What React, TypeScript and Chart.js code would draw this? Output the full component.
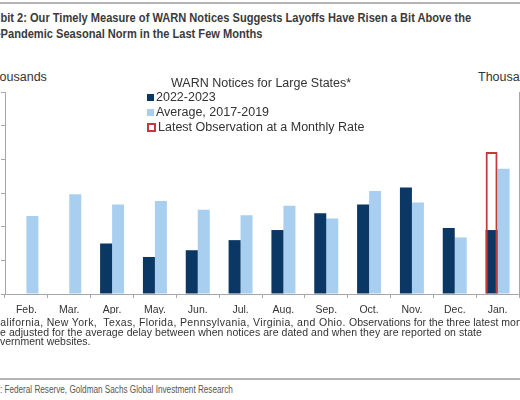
import React, { useEffect, useRef } from "react";
import { Chart, registerables } from "chart.js";

Chart.register(...registerables);

const categories = ["Feb.", "Mar.", "Apr.", "May.", "Jun.", "Jul.", "Aug.", "Sep.", "Oct.", "Nov.", "Dec.", "Jan."];
const recent = [null, null, 7.5, 5.5, 6.5, 8.0, 9.5, 12.0, 13.3, 15.8, 9.8, 9.5];
const average = [11.6, 14.8, 13.3, 13.8, 12.5, 11.7, 13.1, 11.2, 15.3, 13.6, 8.4, 18.6];
const latestMonthlyRate = [null, null, null, null, null, null, null, null, null, null, null, 21.1];
const yMin = 0;
const yMax = 30;
const yStep = 5;

const titleLine1 = "Exhibit 2: Our Timely Measure of WARN Notices Suggests Layoffs Have Risen a Bit Above the";
const titleLine2 = "Pre-Pandemic Seasonal Norm in the Last Few Months";
const footLine1Head = "California, New York,  Texas, Florida, Pennsylvania, Virginia, and Ohio. ";
const footLine1Tail = "Observations for the three latest months";
const footLine2 = "are adjusted for the average delay between when notices are dated and when they are reported on state";
const footLine3 = "government websites.";
const sourceLine = "Source: Federal Reserve, Goldman Sachs Global Investment Research";

const DARK = "#0a3764";
const LIGHT = "#a8cff0";
const RED = "#c23a3a";
const AXIS = "#a6a6a6";
const FAM = "'Liberation Sans', Arial, sans-serif";

let measureCtx: CanvasRenderingContext2D | null = null;
function textWidth(text: string, font: string): number {
  if (!measureCtx) measureCtx = document.createElement("canvas").getContext("2d");
  if (!measureCtx) return text.length * 6;
  measureCtx.font = font;
  return measureCtx.measureText(text).width;
}

export default function App() {
  const ref = useRef<HTMLCanvasElement | null>(null);

  useEffect(() => {
    if (!ref.current) return;
    const chart = new Chart(ref.current, {
      type: "bar",
      data: {
        labels: categories,
        datasets: [
          {
            label: "Latest Observation at a Monthly Rate",
            data: latestMonthlyRate,
            backgroundColor: "rgba(0,0,0,0)",
            borderColor: RED,
            borderWidth: 2,
            stack: "a",
            order: 0,
          },
          {
            label: "2022-2023",
            data: recent,
            backgroundColor: DARK,
            stack: "a",
            order: 1,
          },
          {
            label: "Average, 2017-2019",
            data: average,
            backgroundColor: LIGHT,
            stack: "b",
            order: 1,
          },
        ],
      },
      options: {
        animation: false,
        responsive: false,
        maintainAspectRatio: false,
        events: [],
        layout: { padding: { left: 0, right: 16, top: 12, bottom: 6 } },
        datasets: { bar: { categoryPercentage: 0.56, barPercentage: 1.0 } },
        plugins: { legend: { display: false }, tooltip: { enabled: false }, title: { display: false } },
        scales: {
          x: {
            stacked: true,
            grid: { display: true, drawOnChartArea: false, drawTicks: true, tickLength: 4, color: AXIS },
            border: { display: true, color: AXIS },
            ticks: { color: "#333", font: { family: FAM, size: 10.5 }, padding: 6, maxRotation: 0, autoSkip: false },
            afterFit: (s: any) => { s.height = 20; },
          },
          y: {
            stacked: false,
            position: "left",
            min: yMin,
            max: yMax,
            grid: { display: true, drawOnChartArea: false, drawTicks: true, tickLength: 4, color: AXIS },
            border: { display: true, color: AXIS },
            ticks: { display: false, stepSize: yStep },
            afterFit: (s: any) => { s.width = 5; },
          },
          y1: {
            stacked: false,
            position: "right",
            min: yMin,
            max: yMax,
            grid: { display: true, drawOnChartArea: false, drawTicks: true, tickLength: 4, color: AXIS },
            border: { display: true, color: AXIS },
            ticks: { display: false, stepSize: yStep },
            afterFit: (s: any) => { s.width = 5; },
          },
        },
      },
    });
    return () => chart.destroy();
  }, []);

  const abs = (left: number, top: number, extra: React.CSSProperties = {}): React.CSSProperties => ({
    position: "absolute",
    left,
    top,
    whiteSpace: "pre",
    ...extra,
  });

  // Title: condensed bold, fitted so the visible part of line 1 ends at x≈472
  const tFont = `bold 13px ${FAM}`;
  const tPre1 = textWidth("Exhi", tFont);
  const tScale = 472 / (textWidth(titleLine1, tFont) - tPre1 + 1);
  const tPre2 = textWidth("Pre-", tFont);
  const titleStyle = (left: number, top: number) =>
    abs(left, top, {
      fontFamily: FAM,
      fontWeight: "bold",
      fontSize: 13,
      color: "#3a3a3a",
      lineHeight: "16px",
      transform: `scaleX(${tScale})`,
      transformOrigin: "0 0",
    });

  // Footnote
  const fFont = `10.5px ${FAM}`;
  const pre1 = textWidth("C", fFont);
  const headW = textWidth(footLine1Head, fFont) - pre1;
  const ls1 = (349 - headW) / (footLine1Head.length - 1);
  const pre2 = textWidth("ar", fFont);
  const anchor2 = textWidth(footLine2, fFont) - pre2;
  const ls2 = (482 - anchor2) / (footLine2.length - 2);
  const pre3 = textWidth("go", fFont);
  const footStyle = (left: number, top: number, ls: number) =>
    abs(left, top, { fontFamily: FAM, fontSize: 10.5, color: "#333", lineHeight: "10px", letterSpacing: ls });

  // Source line, condensed
  const sFont = `10px ${FAM}`;
  const sPre = textWidth("Source", sFont);
  const sScale = 233 / (textWidth(sourceLine, sFont) - sPre);

  const legendRow = (top: number, label: string, swatch: React.CSSProperties) => (
    <div style={abs(147, top, { display: "flex", alignItems: "center", fontFamily: FAM, fontSize: 12.5, color: "#333", lineHeight: "15px" })}>
      <span style={{ display: "inline-block", boxSizing: "border-box", marginRight: 2, ...swatch }} />
      <span>{label}</span>
    </div>
  );

  return (
    <div style={{ position: "fixed", left: 0, top: 0, width: 520, height: 400, overflow: "hidden", background: "#fff" }}>
      <div style={abs(0, 2, { width: 520, height: 2, background: "#b5b5b5" })} />
      <div style={titleStyle(-tPre1 * tScale, 10)}>{titleLine1}</div>
      <div style={titleStyle(-tPre2 * tScale + 0.5, 26)}>{titleLine2}</div>

      <div style={abs(-15, 69, { fontFamily: FAM, fontSize: 12.5, color: "#333", lineHeight: "16px" })}>Thousands</div>
      <div style={abs(478, 69, { fontFamily: FAM, fontSize: 12.5, color: "#333", lineHeight: "16px" })}>Thousands</div>

      <canvas ref={ref} width={540} height={240} style={{ position: "absolute", left: 0, top: 80, width: 540, height: 240 }} />

      <div style={abs(171, 75, { fontFamily: FAM, fontSize: 12.5, color: "#333", lineHeight: "16px" })}>WARN Notices for Large States*</div>
      {legendRow(90, "2022-2023", { width: 7, height: 7, background: DARK })}
      {legendRow(105, "Average, 2017-2019", { width: 7, height: 7, background: LIGHT })}
      {legendRow(120, "Latest Observation at a Monthly Rate", { width: 9, height: 9, border: `2px solid ${RED}`, background: "#fff" })}

      <div style={footStyle(-pre1, 317, 0)}>
        <span style={{ letterSpacing: ls1 }}>{footLine1Head}</span>
        <span>{footLine1Tail}</span>
      </div>
      <div style={footStyle(-pre2 - 2 * ls2, 327, ls2)}>{footLine2}</div>
      <div style={footStyle(-pre3, 336, 0)}>{footLine3}</div>

      <div style={abs(0, 378, { width: 520, height: 2, background: "#b5b5b5" })} />
      <div
        style={abs(-sPre * sScale, 384, {
          fontFamily: FAM,
          fontSize: 10,
          color: "#555",
          lineHeight: "12px",
          transform: `scaleX(${sScale})`,
          transformOrigin: "0 0",
        })}
      >
        {sourceLine}
      </div>
    </div>
  );
}
